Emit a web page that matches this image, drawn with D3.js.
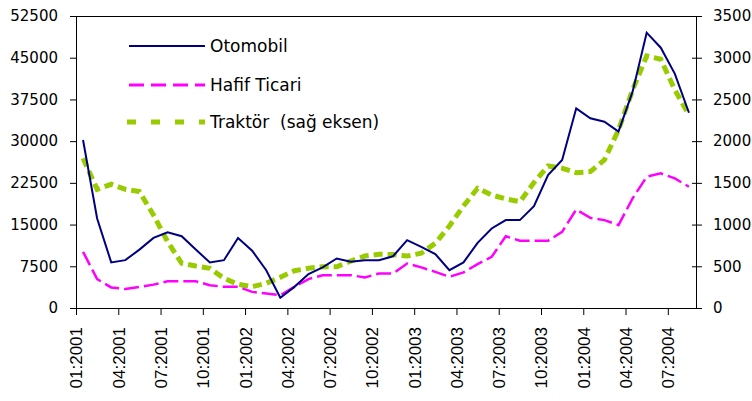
<!DOCTYPE html>
<html><head><meta charset="utf-8">
<script src="https://cdn.jsdelivr.net/npm/d3@7"></script>
<style>
html,body{margin:0;padding:0;background:#fff;}
svg{display:block;}
</style></head>
<body>
<svg id="chart" width="752" height="401"></svg>
<script>
const months = ["01:2001","02:2001","03:2001","04:2001","05:2001","06:2001","07:2001","08:2001","09:2001","10:2001","11:2001","12:2001",
"01:2002","02:2002","03:2002","04:2002","05:2002","06:2002","07:2002","08:2002","09:2002","10:2002","11:2002","12:2002",
"01:2003","02:2003","03:2003","04:2003","05:2003","06:2003","07:2003","08:2003","09:2003","10:2003","11:2003","12:2003",
"01:2004","02:2004","03:2004","04:2004","05:2004","06:2004","07:2004","08:2004"];
const otomobil = [30200,16100,8200,8600,10500,12600,13600,12900,10500,8200,8600,12600,
10300,6800,1850,3800,6100,7300,8900,8300,8600,8600,9300,12200,
11000,9700,6800,8200,11700,14300,15800,15800,18300,23900,26600,35900,
34100,33500,31700,38900,49500,46800,42100,35100];
const hafifTicari = [10100,5200,3700,3400,3800,4200,4800,4800,4800,4100,3800,3800,
2900,2600,2300,3800,5200,5900,5900,5900,5500,6200,6200,8000,
7300,6500,5600,6400,7900,9200,12900,12100,12100,12100,13700,17700,
16200,15800,14900,19700,23600,24200,23300,21800];
const traktor = [1795,1423,1483,1423,1395,1115,795,536,504,476,356,284,
255,296,368,447,476,495,495,563,623,644,640,623,
656,776,983,1223,1435,1355,1307,1275,1503,1703,1675,1622,
1634,1775,2134,2614,3021,2982,2614,2314];
const leftTicks = [0,7500,15000,22500,30000,37500,45000,52500];
const rightTicks = [0,500,1000,1500,2000,2500,3000,3500];
const xTickIdx = [0,3,6,9,12,15,18,21,24,27,30,33,36,39,42];
const seriesNames = ["Otomobil","Hafif Ticari","Traktör  (sağ eksen)"];

const svg = d3.select("#chart");
const L = 76, R = 696, T = 16, B = 308;

const x = d3.scaleLinear().domain([0, months.length]).range([L, R]);
const yL = d3.scaleLinear().domain([0, 52500]).range([B, T]);
const yR = d3.scaleLinear().domain([0, 3500]).range([B, T]);

const numFont = "'DejaVu Sans', Verdana, sans-serif";

// top border
svg.append("line").attr("x1", L).attr("x2", R).attr("y1", T + 0.5).attr("y2", T + 0.5)
  .attr("stroke", "#000").attr("stroke-width", 1);

// left axis
const gL = svg.append("g").attr("transform", `translate(${L},0)`)
  .call(d3.axisLeft(yL).tickValues(leftTicks).tickSize(6).tickPadding(12).tickFormat(d3.format("d")));
gL.selectAll("text").attr("font-family", numFont).attr("font-size", 15).attr("fill", "#000");
gL.selectAll("line,path").attr("stroke", "#000");

// right axis
const gR = svg.append("g").attr("transform", `translate(${R},0)`)
  .call(d3.axisRight(yR).tickValues(rightTicks).tickSize(6).tickPadding(11).tickFormat(d3.format("d")));
gR.selectAll("text").attr("font-family", numFont).attr("font-size", 15).attr("fill", "#000");
gR.selectAll("line,path").attr("stroke", "#000");
gR.selectAll(".tick line").attr("x1", -4);

// bottom axis
const gB = svg.append("g").attr("transform", `translate(0,${B})`)
  .call(d3.axisBottom(x).tickValues(xTickIdx).tickSize(7).tickSizeOuter(0).tickFormat(i => months[i]));
gB.selectAll("line,path").attr("stroke", "#000");
gB.selectAll("text")
  .attr("font-family", "'Liberation Sans', Arial, sans-serif").attr("font-size", 17).attr("fill", "#000")
  .attr("text-anchor", "end").attr("dy", "0.35em")
  .attr("transform", "rotate(-90)").attr("x", -19).attr("y", 0);

// lines
const lineL = d3.line().x((d, i) => x(i + 0.5)).y(d => yL(d));
const lineR = d3.line().x((d, i) => x(i + 0.5)).y(d => yR(d));

svg.append("path").datum(traktor).attr("d", lineR)
  .attr("fill", "none").attr("stroke", "#99CC00").attr("stroke-width", 5)
  .attr("stroke-dasharray", "9,5");
svg.append("path").datum(hafifTicari).attr("d", lineL)
  .attr("fill", "none").attr("stroke", "#FF00FF").attr("stroke-width", 2.5)
  .attr("stroke-dasharray", "15,5");
svg.append("path").datum(otomobil).attr("d", lineL)
  .attr("fill", "none").attr("stroke", "#000080").attr("stroke-width", 2);

// legend
const legend = [
  {name: seriesNames[0], color: "#000080", w: 2, dash: null, y: 46},
  {name: seriesNames[1], color: "#FF00FF", w: 3, dash: "15,7", y: 85},
  {name: seriesNames[2], color: "#99CC00", w: 5, dash: "9,15", y: 122}
];
const lg = svg.append("g");
legend.forEach(d => {
  lg.append("line").attr("x1", d.name === seriesNames[2] ? 127 : 129).attr("x2", 205)
    .attr("y1", d.y).attr("y2", d.y)
    .attr("stroke", d.color).attr("stroke-width", d.w)
    .attr("stroke-dasharray", d.dash);
  lg.append("text").attr("x", 210).attr("y", d.y).attr("dy", "0.36em")
    .attr("font-family", numFont).attr("font-size", 17).attr("fill", "#000")
    .style("white-space", "pre")
    .text(d.name);
});
</script>
</body></html>
